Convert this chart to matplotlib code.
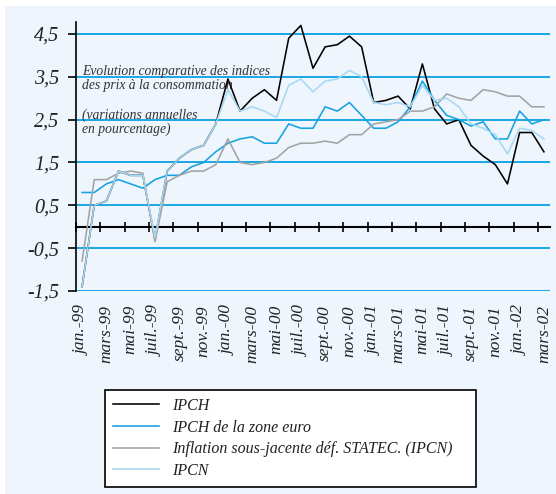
import matplotlib
matplotlib.use('Agg')
import matplotlib.pyplot as plt
from matplotlib.patches import Rectangle
import numpy as np

# monthly series jan-99 .. mars-02 (variations annuelles en %)
months = np.arange(39)
month_labels = ['jan.-99', 'mars-99', 'mai-99', 'juil.-99', 'sept.-99', 'nov.-99',
                'jan.-00', 'mars-00', 'mai-00', 'juil.-00', 'sept.-00', 'nov.-00',
                'jan.-01', 'mars-01', 'mai-01', 'juil.-01', 'sept.-01', 'nov.-01',
                'jan.-02', 'mars-02']

ipch = [-1.4, 0.5, 0.6, 1.3, 1.2, 1.2, -0.3, 1.3, 1.6, 1.8, 1.9, 2.4, 3.45,
        2.7, 3.0, 3.2, 2.95, 4.4, 4.7, 3.7, 4.2, 4.25, 4.45, 4.2, 2.9, 2.95,
        3.05, 2.75, 3.8, 2.75, 2.4, 2.5, 1.9, 1.65, 1.45, 1.0, 2.2, 2.2, 1.75]
ipch_euro = [0.8, 0.8, 1.0, 1.1, 1.0, 0.9, 1.1, 1.2, 1.2, 1.4, 1.5, 1.75, 1.95,
             2.05, 2.1, 1.95, 1.95, 2.4, 2.3, 2.3, 2.8, 2.7, 2.9, 2.6, 2.3, 2.3,
             2.45, 2.8, 3.4, 2.95, 2.6, 2.5, 2.35, 2.45, 2.05, 2.05, 2.7, 2.4, 2.5]
sous_jacente = [-0.8, 1.1, 1.1, 1.25, 1.3, 1.25, -0.35, 1.05, 1.2, 1.3, 1.3, 1.45, 2.05,
                1.5, 1.45, 1.5, 1.6, 1.85, 1.95, 1.95, 2.0, 1.95, 2.15, 2.15, 2.4, 2.45,
                2.5, 2.7, 2.7, 2.8, 3.1, 3.0, 2.95, 3.2, 3.15, 3.05, 3.05, 2.8, 2.8]
ipcn = [-1.4, 0.5, 0.6, 1.3, 1.2, 1.2, -0.25, 1.3, 1.6, 1.8, 1.9, 2.4, 3.2,
        2.7, 2.8, 2.7, 2.55, 3.3, 3.45, 3.15, 3.4, 3.45, 3.65, 3.5, 2.9, 2.85,
        2.9, 2.8, 3.3, 2.95, 3.0, 2.8, 2.4, 2.3, 2.15, 1.7, 2.3, 2.25, 2.05]

yticks = [-1.5, -0.5, 0.5, 1.5, 2.5, 3.5, 4.5]

bg = '#eef5fc'
grid_blue = '#1aa7e4'
plt.rcParams['font.family'] = ['Liberation Serif', 'DejaVu Serif']
plt.rcParams['font.style'] = 'italic'

fig = plt.figure(figsize=(5.56, 4.94), dpi=100)
fig.patch.set_facecolor('white')
fig.add_artist(Rectangle((5 / 556, 0), 1, 1 - 6 / 494, transform=fig.transFigure,
                         facecolor=bg, edgecolor='none', zorder=-10))

ax = fig.add_axes([76 / 556, 1 - 291 / 494, 474 / 556, 269 / 494])
ax.set_facecolor('none')
ax.set_xlim(-0.5, 38.5)
ax.set_ylim(-1.5, 4.78)

for y in yticks:
    ax.axhline(y, color=grid_blue, lw=1.4, zorder=1)

ax.plot(months, ipch, color='black', lw=1.15, zorder=3, label='IPCH')
ax.plot(months, ipch_euro, color='#15a2e2', lw=1.15, zorder=4, label='IPCH de la zone euro')
ax.plot(months, sous_jacente, color='#a3a3a3', lw=1.15, zorder=4,
        label='Inflation sous-jacente déf. STATEC. (IPCN)')
ax.plot(months, ipcn, color='#a6d8f3', lw=1.15, zorder=5, label='IPCN')

for s in ['top', 'right']:
    ax.spines[s].set_visible(False)
ax.spines['left'].set_color('black')
ax.spines['left'].set_linewidth(1.2)
ax.spines['bottom'].set_position(('data', 0))
ax.spines['bottom'].set_linewidth(1.5)
ax.spines['bottom'].set_zorder(2)

ax.set_xticks(np.arange(-0.5, 38, 2))
ax.tick_params(axis='x', direction='inout', length=6.5, width=1.2, labelbottom=False)
ax.set_yticks(yticks, [f'{v:.1f}'.replace('.', ',') for v in yticks])
ax.tick_params(axis='y', direction='out', length=5.5, width=1.2, pad=6.5,
               labelsize=14.5, labelcolor='#222222')

sec = ax.secondary_xaxis(0)
sec.spines['bottom'].set_visible(False)
sec.set_xticks(months[::2], month_labels)
sec.tick_params(length=0, pad=10, labelsize=12.5, labelcolor='#222222')
for lab in sec.get_xticklabels():
    lab.set_rotation(90)
    lab.set_va('top')
    lab.set_ha('center')

ax.text(0.0127, 0.84, 'Evolution comparative des indices\ndes prix à la consommation',
        transform=ax.transAxes, fontsize=9.8, color='#333333', va='top', ha='left',
        linespacing=1.05, zorder=2)
ax.text(0.0127, 0.68, '(variations annuelles\nen pourcentage)',
        transform=ax.transAxes, fontsize=9.8, color='#333333', va='top', ha='left',
        linespacing=1.05, zorder=2)

handles, labels = ax.get_legend_handles_labels()
leg = fig.legend(handles, labels, loc='upper left',
                 bbox_to_anchor=(105 / 556, 1 - 390 / 494 - 0.01, 371 / 556, 0.01),
                 mode='expand', fontsize=11.5, frameon=True, fancybox=False,
                 edgecolor='black', facecolor='white', framealpha=1,
                 borderpad=0.5, handlelength=2.9, handletextpad=0.8,
                 labelspacing=0.35, borderaxespad=0)
leg.get_frame().set_linewidth(1.2)
for t in leg.get_texts():
    t.set_color('#222222')

fig.savefig('out.png', dpi=100, facecolor=fig.get_facecolor())
